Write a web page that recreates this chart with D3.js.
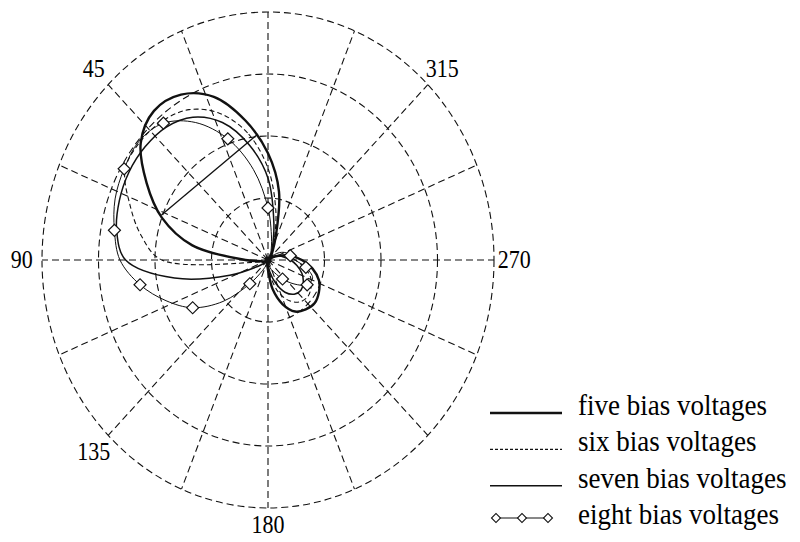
<!DOCTYPE html>
<html>
<head>
<meta charset="utf-8">
<script src="https://cdnjs.cloudflare.com/ajax/libs/d3/7.8.5/d3.min.js"></script>
<style>
  body { margin: 0; background: #fff; }
  svg { display: block; font-family: "Liberation Serif", "Times New Roman", serif; }
</style>
</head>
<body>
<svg id="polar" width="800" height="542"></svg>
<script>
// sample angles (deg, counter-clockwise from top)
var angles = [0, 10, 20, 30, 40, 50, 60, 70, 80, 90, 100, 110, 120, 130, 140, 150, 160, 170,
              180, 190, 200, 210, 220, 230, 240, 250, 260, 270, 280, 290, 300, 310, 320, 330, 340, 350];

var fiveBias  = [0.43, 0.57, 0.70, 0.77, 0.785, 0.735, 0.62, 0.50, 0.34, 0.10, 0.03, 0.02, 0.01, 0.01, 0.01, 0.01, 0.01, 0.02,
                 0.04, 0.12, 0.19, 0.24, 0.26, 0.27, 0.26, 0.24, 0.20, 0.15, 0.10, 0.05, 0.02, 0.01, 0.02, 0.04, 0.10, 0.28];
var sixBias   = [0.37, 0.52, 0.63, 0.70, 0.73, 0.74, 0.73, 0.65, 0.57, 0.47, 0.05, 0.02, 0.01, 0.01, 0.01, 0.01, 0.01, 0.01,
                 0.02, 0.07, 0.14, 0.19, 0.22, 0.23, 0.22, 0.20, 0.16, 0.12, 0.08, 0.05, 0.03, 0.02, 0.02, 0.04, 0.08, 0.20];
var sevenBias = [0.33, 0.47, 0.59, 0.665, 0.70, 0.71, 0.71, 0.70, 0.68, 0.63, 0.42, 0.18, 0.05, 0.02, 0.01, 0.01, 0.01, 0.01,
                 0.02, 0.05, 0.10, 0.15, 0.18, 0.19, 0.18, 0.16, 0.13, 0.10, 0.07, 0.05, 0.03, 0.02, 0.02, 0.03, 0.06, 0.15];
var eightBias = [0.21, 0.37, 0.52, 0.64, 0.72, 0.745, 0.735, 0.72, 0.69, 0.655, 0.575, 0.48, 0.385, 0.26, 0.125, 0.05, 0.02, 0.01,
                 0.01, 0.02, 0.04, 0.06, 0.10, 0.15, 0.20, 0.21, 0.17, 0.12, 0.10, 0.085, 0.06, 0.03, 0.02, 0.02, 0.04, 0.09];

// half power chord across the main lobe [angle, r]
var beamChord = [[5, 0.51], [69, 0.505]];

var rings = [0.25, 0.5, 0.75, 1];
var spokes = [0, 22.5, 45, 67.5, 90, 112.5, 135, 157.5, 180, 202.5, 225, 247.5, 270, 292.5, 315, 337.5];
var angleLabels = [45, 90, 135, 180, 270, 315];
var legendLabels = ['five bias voltages', 'six bias voltages', 'seven bias voltages', 'eight bias voltages'];

var cx = 268, cy = 260;
var stretch = 1.1;   // picture is a little taller than wide
var rX = d3.scaleLinear().domain([0, 1]).range([0, 226]);
var rY = d3.scaleLinear().domain([0, 1]).range([0, 248]);
var rad = d3.scaleLinear().domain([0, 360]).range([0, 2 * Math.PI]);

function px(a, r) { return cx - rX(r) * Math.sin(rad(a)); }
function py(a, r) { return cy - rY(r) * Math.cos(rad(a)); }

var svg = d3.select('svg#polar');
var grid = svg.append('g').attr('class', 'grid')
  .attr('fill', 'none').attr('stroke', '#111')
  .attr('stroke-width', 1.1).attr('stroke-dasharray', '7,4');

grid.selectAll('ellipse').data(rings).enter().append('ellipse')
  .attr('cx', cx).attr('cy', cy)
  .attr('rx', function(d) { return rX(d); })
  .attr('ry', function(d) { return rY(d); });

grid.selectAll('line').data(spokes).enter().append('line')
  .attr('x1', cx).attr('y1', cy)
  .attr('x2', function(d) { return px(d, 1); })
  .attr('y2', function(d) { return py(d, 1); });

svg.append('g').selectAll('text').data(angleLabels).enter().append('text')
  .attr('transform', function(d) {
    var r = d === 180 ? 1.065 : 1.09;
    return 'translate(' + px(d, r) + ',' + py(d, r) + ') scale(1,' + stretch + ')';
  })
  .attr('dy', '0.35em')
  .attr('text-anchor', 'middle')
  .attr('font-size', 22)
  .text(function(d) { return d; });

var series = [
  {values: fiveBias, width: 2.4, dash: null},
  {values: sixBias, width: 1.1, dash: '5,3'},
  {values: sevenBias, width: 1.5, dash: null},
  {values: eightBias, width: 1.0, dash: null, marker: true}
];

var line = d3.line()
  .x(function(d) { return px(d[0], d[1]); })
  .y(function(d) { return py(d[0], d[1]); })
  .curve(d3.curveCatmullRomClosed.alpha(0.5));

var plot = svg.append('g').attr('class', 'curves');
series.forEach(function(s) {
  var pts = angles.map(function(a, i) { return [a, s.values[i]]; });
  plot.append('path')
    .datum(pts)
    .attr('d', line)
    .attr('fill', 'none')
    .attr('stroke', '#111')
    .attr('stroke-width', s.width)
    .attr('stroke-dasharray', s.dash);
  if (s.marker) {
    plot.selectAll('path.mark').data(pts.filter(function(d, i) { return i % 2 === 0 && d[1] >= 0.07; }))
      .enter().append('path')
      .attr('class', 'mark')
      .attr('d', d3.symbol(d3.symbolSquare, 72))
      .attr('transform', function(d) { return 'translate(' + px(d[0], d[1]) + ',' + py(d[0], d[1]) + ') rotate(45)'; })
      .attr('fill', '#fff').attr('stroke', '#111').attr('stroke-width', 1.2);
  }
});

plot.append('path')
  .datum(beamChord)
  .attr('d', d3.line().x(function(d) { return px(d[0], d[1]); }).y(function(d) { return py(d[0], d[1]); }))
  .attr('stroke', '#111').attr('stroke-width', 1.3);

// dense hub where every curve meets
svg.append('circle').attr('cx', px(0, 0)).attr('cy', py(0, 0)).attr('r', 3.5).attr('fill', '#111');

// legend
var legend = svg.append('g').attr('class', 'legend');
var rowY = d3.scalePoint().domain(legendLabels).range([415, 524]);
legend.selectAll('text').data(legendLabels).enter().append('text')
  .attr('transform', function(d) { return 'translate(578,' + rowY(d) + ') scale(1,' + stretch + ')'; })
  .attr('font-size', 27)
  .text(function(d) { return d; });

legendLabels.forEach(function(lab, i) {
  var s = series[i];
  var y = rowY(lab) - (s.marker ? 6 : 2);
  legend.append('line')
    .attr('x1', s.marker ? 496 : 490).attr('x2', s.marker ? 548 : 562)
    .attr('y1', y).attr('y2', y)
    .attr('stroke', '#111')
    .attr('stroke-width', s.width)
    .attr('stroke-dasharray', s.dash ? '3,2' : null);
  if (s.marker) {
    legend.selectAll('path.lmark').data([496, 522, 548]).enter().append('path')
      .attr('class', 'lmark')
      .attr('d', d3.symbol(d3.symbolSquare, 40))
      .attr('transform', function(d) { return 'translate(' + d + ',' + y + ') rotate(45)'; })
      .attr('fill', '#fff').attr('stroke', '#111').attr('stroke-width', 1.1);
  }
});
</script>
</body>
</html>
